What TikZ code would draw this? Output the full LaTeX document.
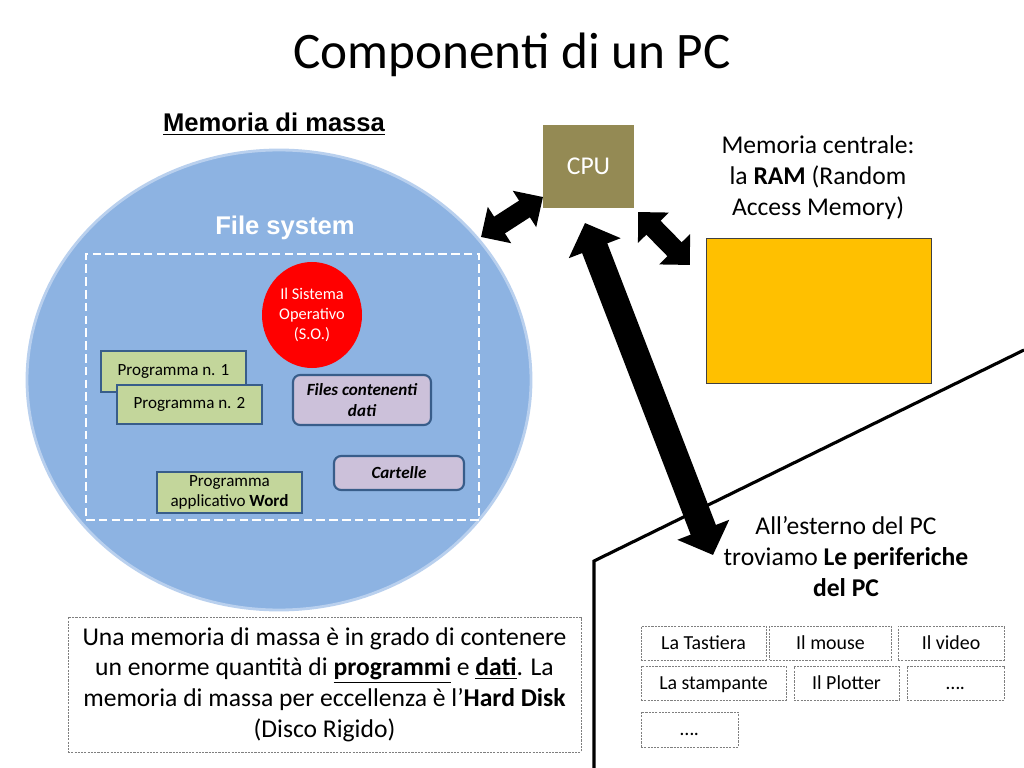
\documentclass[tikz,border=0pt]{standalone}
\usepackage{fontspec}
\setmainfont{Carlito}
\newfontfamily\arialfont{Liberation Sans}
\usetikzlibrary{arrows.meta,shapes.geometric}
\definecolor{blfill}{RGB}{141,179,226}
\definecolor{blglow}{RGB}{185,208,238}
\definecolor{osred}{RGB}{255,0,0}
\definecolor{pgreen}{RGB}{195,214,155}
\definecolor{pborder}{RGB}{56,93,138}
\definecolor{plav}{RGB}{204,193,218}
\definecolor{cpuol}{RGB}{148,138,84}
\definecolor{ramyel}{RGB}{255,192,0}
\definecolor{dgray}{RGB}{127,127,127}
\tikzset{
  sz/.style 2 args={minimum width=#1*0.703125pt, minimum height=#2*0.703125pt, inner sep=0pt},
  progbox/.style={draw=pborder, fill=pgreen, line width=1.5pt, align=center, font=\fontsize{12}{14.5}\selectfont},
  filebox/.style={draw=pborder, fill=plav, line width=1.5pt, rounded corners=5pt, align=center, font=\fontsize{12}{14.5}\selectfont\bfseries\itshape},
  perbox/.style={draw=dgray, dash pattern=on 1.5pt off 0.8pt, line width=0.6pt, font=\fontsize{14}{17}\selectfont, text height=11pt, text depth=2pt},
  smallarrow/.style={line width=14pt, {Triangle[length=15.5pt,width=29.5pt]}-{Triangle[length=15.5pt,width=29.5pt]}},
  bigarrow/.style={line width=19pt, {Triangle[length=19pt,width=38pt]}-{Triangle[length=19pt,width=38pt]}},
}
\begin{document}
\begin{tikzpicture}[x=0.703125pt,y=-0.703125pt]
\useasboundingbox[fill=white] (0,0) rectangle (1024,768);

% title
\node (title) at (512,55) {\fontsize{36}{43}\selectfont Componenti di un PC};

% mass memory
\node (mmlabel) at (274,124) {\arialfont\fontsize{18}{21}\selectfont\bfseries\underline{Memoria di massa}};
\node[ellipse, fill=blfill, draw=blglow, line width=2pt, sz={504}{460}] (disk) at (279,380) {};
\node[text=white] (fslabel) at (285,228) {\arialfont\fontsize{18}{21}\selectfont\bfseries File system};
\node[draw=white, line width=1.8pt, dash pattern=on 6pt off 3pt, sz={393}{266}] (fsbox) at (282.5,387) {};
\node[ellipse, fill=osred, sz={100}{106}, text=white, align=center, font=\fontsize{11.5}{14}\selectfont] (os) at (312,315) {Il Sistema\\Operativo\\(S.O.)};
\node[progbox, sz={145}{41}] (p1) at (173.5,371.5) {Programma n. 1};
\node[progbox, sz={145}{39}] (p2) at (189.5,404.5) {Programma n. 2};
\node[progbox, sz={145}{41}] (word) at (229.5,492.5) {Programma\\applicativo \textbf{Word}};
\node[filebox, sz={138}{50}] (files) at (362,400) {Files contenenti\\dati};
\node[filebox, sz={130}{34}] (cart) at (399,473) {Cartelle};

% CPU and RAM
\node[fill=cpuol, sz={91}{83}, text=white, font=\fontsize{18}{21}\selectfont] (cpu) at (588.5,166.5) {CPU};
\node[align=center, font=\fontsize{18}{21.8}\selectfont] (ramlabel) at (818,178) {Memoria centrale:\\la \textbf{RAM} (Random\\Access Memory)};
\node[fill=ramyel, draw=black!75, line width=0.6pt, sz={225}{145}] (ram) at (818.5,310.5) {};

% boundary line
\coordinate (b1) at (1024,350);
\coordinate (b2) at (594,561);
\coordinate (b3) at (594,768);
\draw[line width=2.2pt] (b1) -- (b2) -- (b3);

% arrows
\coordinate (a1s) at (481,237);
\coordinate (a1e) at (543,197);
\draw[smallarrow] (a1s) -- (a1e);
\coordinate (a2s) at (638,212);
\coordinate (a2e) at (690,265);
\draw[smallarrow] (a2s) -- (a2e);
\coordinate (a3s) at (585,223);
\coordinate (a3e) at (713,555);
\draw[bigarrow] (a3s) -- (a3e);

% peripherals
\node[align=center, font=\fontsize{18}{21.8}\selectfont] (perlabel) at (846,557) {All’esterno del PC\\troviamo \textbf{Le periferiche}\\\textbf{del PC}};
\node[perbox, sz={125}{34}] (k1) at (703.5,643) {La Tastiera};
\node[perbox, sz={122}{34}] (k2) at (830.5,643) {Il mouse};
\node[perbox, sz={106}{34}] (k3) at (951,643) {Il video};
\node[perbox, sz={145}{34}] (k4) at (713.5,683) {La stampante};
\node[perbox, sz={105}{34}] (k5) at (846.5,683) {Il Plotter};
\node[perbox, sz={97}{34}] (k6) at (955.5,683) {….};
\node[perbox, sz={97}{35}] (k7) at (689.5,729.5) {….};

% bottom text
\node[draw=dgray, dash pattern=on 1.5pt off 0.8pt, line width=0.6pt, sz={513}{135}, align=center, font=\fontsize{18}{21.6}\selectfont] (note) at (324.5,684.5) {Una memoria di massa è in grado di contenere\\un enorme quantità di \underline{\textbf{programmi}} e \underline{\textbf{dati}}. La\\memoria di massa per eccellenza è l’\textbf{Hard Disk}\\(Disco Rigido)};
\end{tikzpicture}
\end{document}
